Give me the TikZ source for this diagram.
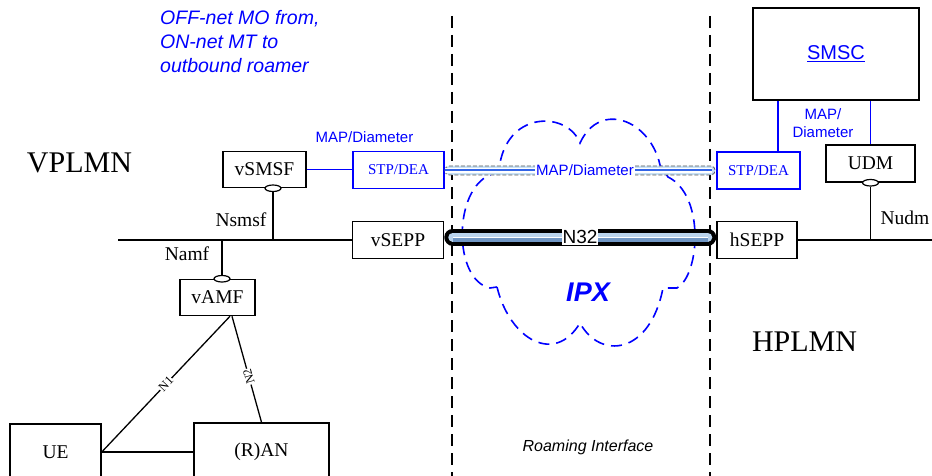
\documentclass[tikz,border=0pt]{standalone}
\usepackage{fontspec}
\setmainfont{Liberation Serif}
\setsansfont{Liberation Sans}
\usetikzlibrary{calc,shapes.geometric}

\definecolor{netblue}{RGB}{0,0,255}
\definecolor{pipelight}{RGB}{186,212,238}
\definecolor{pipesteel}{RGB}{112,150,196}
\definecolor{mapfill}{RGB}{198,224,246}
\definecolor{mapline}{RGB}{50,100,230}

\newcommand\boxfont{\fontsize{19.5}{22}\selectfont}
\newcommand\stpfont{\fontsize{15}{18}\selectfont}
\newcommand\bluesans{\sffamily\fontsize{15}{18}\selectfont}
\newcommand\bigfont{\fontsize{30}{34}\selectfont}

\begin{document}
\begin{tikzpicture}[x=1pt,y=-1pt,
  nf/.style={draw, line width=1.5pt, fill=white, inner sep=0pt, font=\boxfont},
  stpbox/.style={draw=netblue, text=netblue, line width=1.5pt, fill=white,
    inner sep=0pt, font=\stpfont},
  iface/.style={draw, line width=1.2pt, fill=white, ellipse, inner sep=0pt,
    minimum width=16pt, minimum height=6.5pt},
  wire/.style={line width=1.3pt},
  bluewire/.style={line width=1.3pt, netblue},
  border/.style={line width=1.5pt, dash pattern=on 12pt off 7pt},
  cloudline/.style={line width=1.6pt, netblue, dash pattern=on 11pt off 7pt},
  lbl/.style={font=\boxfont, inner sep=0pt},
  reflbl/.style={font=\fontsize{12.5}{14}\selectfont, fill=white, inner sep=0.5pt}]

\useasboundingbox (0,0) rectangle (932,476);
\clip (0,0) rectangle (932,476);

% roaming interface borders
\coordinate (bl1) at (452,16);
\coordinate (bl2) at (710,16);
\draw[border] (bl1) -- (bl1 |- 0,478);
\draw[border] (bl2) -- (bl2 |- 0,478);

% IPX cloud
\draw[cloudline] (497,287) .. controls (510,340) and (555,365) .. (580,323)
  .. controls (600,360) and (650,355) .. (663,288)
  -- (677,288)
  .. controls (700,275) and (705,195) .. (668,177)
  -- (660,165)
  .. controls (650,120) and (600,100) .. (580,143)
  .. controls (568,112) and (510,110) .. (500,163)
  -- (490,175)
  .. controls (453,190) and (453,280) .. (490,288)
  -- cycle;

% network functions
\node[nf, minimum width=83pt, minimum height=36pt] (vSMSF) at (264.5,169.5) {vSMSF};
\node[stpbox, minimum width=91pt, minimum height=37pt] (STP1) at (398.5,170) {STP/DEA};
\node[nf, minimum width=91pt, minimum height=37pt] (vSEPP) at (398,240) {vSEPP};
\node[nf, minimum width=80pt, minimum height=37pt] (hSEPP) at (757,240) {hSEPP};
\node[stpbox, minimum width=83pt, minimum height=37pt] (STP2) at (758.5,170.5) {STP/DEA};
\node[nf, minimum width=89pt, minimum height=37pt] (UDM) at (870.5,163.5) {UDM};
\node[nf, minimum width=166pt, minimum height=92pt, text=netblue,
  font=\sffamily\fontsize{20}{24}\selectfont] (SMSC) at (836,54) {\underline{SMSC}};
\node[nf, minimum width=75pt, minimum height=36pt] (vAMF) at (217.5,297.5) {vAMF};
\node[nf, minimum width=91pt, minimum height=56pt] (UE) at (55.5,452) {UE};
\node[nf, minimum width=135pt, minimum height=58pt] (RAN) at (261.5,452) {(R)AN};

% service interfaces
\node[iface] (oSMSF) at ($(vSMSF.south)+(8.5,0)$) {};
\node[iface] (oAMF) at ($(vAMF.north)+(4.5,0)$) {};
\node[iface] (oUDM) at (UDM.south) {};

% service bus lines
\coordinate (busL) at (118,240);
\coordinate (busR) at (934,240);
\draw[wire] (busL) -- (vSEPP.west);
\draw[wire] (hSEPP.east) -- (busR);
\draw[wire] (oSMSF.south) -- (oSMSF.south |- busL);
\draw[wire] (oAMF.north) -- (oAMF.north |- busL);
\draw[wire] (oUDM.south) -- (oUDM.south |- busR);

\node[lbl] (lSMSF) at (241,220) {Nsmsf};
\node[lbl] (lAMF) at (187,254) {Namf};
\node[lbl] (lUDM) at (905,218) {Nudm};

% reference points
\coordinate (amfN1) at ($(vAMF.south)+(12.5,0)$);
\coordinate (amfN2) at ($(vAMF.south)+(14.5,0)$);
\draw[wire] (UE.east) -- node[reflbl, sloped] {N1} (amfN1);
\draw[wire] (amfN2) -- node[reflbl, pos=0.57, rotate=105.5] {N2} (RAN.north);
\draw[wire] (UE.east) -- (RAN.west);

% MAP/Diameter signalling
\draw[bluewire] (vSMSF.east) -- (vSMSF.east -| STP1.west);
\coordinate (s2top) at ($(STP2.north)+(19.5,0)$);
\draw[bluewire] (s2top) -- (s2top |- SMSC.south);
\draw[bluewire] (UDM.north) -- (UDM.north |- SMSC.south);
\node[text=netblue, font=\bluesans, inner sep=0pt] (lMAP1) at (364.5,137) {MAP/Diameter};
\node[text=netblue, font=\bluesans, align=center, inner sep=0pt] (lMAP2) at (823,123)
  {MAP/\\Diameter};

% MAP/Diameter pipe across IPX
\coordinate (m1) at ($(STP1.east)+(0,0.5)$);
\coordinate (m2) at ($(STP2.west)+(-1,0)$);
\draw[line width=0.8pt, gray!70!black, dash pattern=on 4pt off 2pt, fill=mapfill,
  rounded corners=4.5pt] ($(m1)+(0,-4.5)$) rectangle ($(m2)+(0,4.5)$);
\draw[line width=4.5pt, white] (m1) -- ($(m2)+(-3,0)$);
\draw[line width=2pt, mapline] (m1) -- ($(m2)+(-3,0)$);
\node[text=netblue, font=\bluesans, fill=white, inner sep=1pt] (lMAP3) at (585,170.5)
  {MAP/Diameter};

% N32 pipe between the SEPPs
\coordinate (p1) at ($(vSEPP.east)+(8.5,-3)$);
\coordinate (p2) at ($(hSEPP.west)+(-8.5,-3)$);
\draw[line width=17pt, line cap=round] (p1) -- (p2);
\draw[line width=9pt, pipelight, line cap=round] (p1) -- (p2);
\draw[line width=4pt, pipesteel] ($(p1)+(0,2.5)$) -- ($(p2)+(0,2.5)$);
\draw[line width=1pt, white] (p1) -- (p2);
\node[font=\sffamily\fontsize{19}{22}\selectfont, fill=white, inner sep=1pt] (lN32)
  at (580,237) {N32};

% area labels
\node[font=\bigfont, inner sep=0pt] (vpl) at (79.5,163) {VPLMN};
\node[font=\bigfont, inner sep=0pt] (hpl) at (804.5,342) {HPLMN};
\node[text=netblue, font=\sffamily\bfseries\itshape\fontsize{27}{30}\selectfont,
  inner sep=0pt] (ipx) at (588,292) {IPX};
\node[font=\sffamily\itshape\fontsize{16}{19}\selectfont, inner sep=0pt] (ri)
  at (588,447) {Roaming Interface};
\node[text=netblue, font=\sffamily\itshape\fontsize{19.5}{24}\selectfont,
  align=left, anchor=north west, inner sep=0pt] (note) at (160,10.5)
  {OFF-net MO from,\\ON-net MT to\\outbound roamer};
\end{tikzpicture}
\end{document}
